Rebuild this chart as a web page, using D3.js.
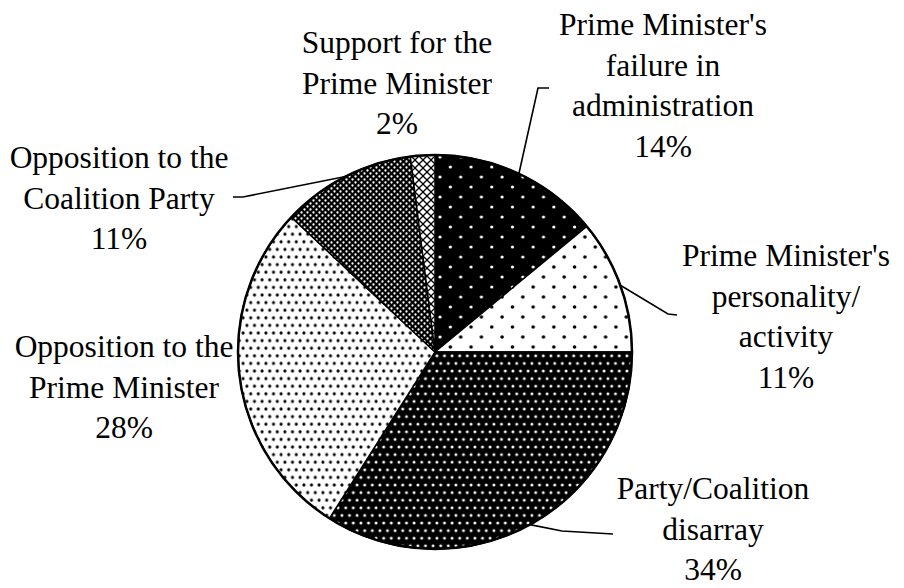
<!DOCTYPE html>
<html>
<head>
<meta charset="utf-8">
<script src="https://cdn.jsdelivr.net/npm/d3@7"></script>
<style>
  html, body { margin: 0; padding: 0; background: #fff; }
  svg { display: block; }
</style>
</head>
<body>
<svg id="chart" width="904" height="588"></svg>
<script>
// Reasons given, clockwise from 12 o'clock
const categories = [
  "Prime Minister's failure in administration",
  "Prime Minister's personality/activity",
  "Party/Coalition disarray",
  "Opposition to the Prime Minister",
  "Opposition to the Coalition Party",
  "Support for the Prime Minister"
];
const values = [14, 11, 34, 28, 11, 2];
// How each category name wraps in its label
const labelLines = [
  ["Prime Minister's", "failure in", "administration"],
  ["Prime Minister's", "personality/", "activity"],
  ["Party/Coalition", "disarray"],
  ["Opposition to the", "Prime Minister"],
  ["Opposition to the", "Coalition Party"],
  ["Support for the", "Prime Minister"]
];

const W = 904, H = 588;
const cx = 435, cy = 352, R = 197;
const lineH = 40.5;

// label anchors (centre x, first baseline) and leader elbows
const labelLayout = [
  { x: 663, y: 35,  leader: [[538, 88], [549, 88]] },
  { x: 786, y: 266, leader: [[668, 314], [677, 315]] },
  { x: 713, y: 499, leader: [[562, 531], [613, 534]] },
  { x: 124, y: 357, leader: null },
  { x: 119, y: 168, leader: [[243, 197], [233, 197]] },
  { x: 397, y: 53,  leader: null }
];

const svg = d3.select("#chart");
const defs = svg.append("defs");

// halftone fills
function dotPattern(id, w, h, bg, fg, dots, r) {
  const p = defs.append("pattern")
    .attr("id", id).attr("patternUnits", "userSpaceOnUse")
    .attr("width", w).attr("height", h);
  p.append("rect").attr("width", w).attr("height", h).attr("fill", bg);
  dots.forEach(([x, y]) => {
    p.append("circle").attr("cx", x).attr("cy", y).attr("r", r).attr("fill", fg);
  });
}
dotPattern("fill0", 20.7, 20, "#000", "#fff", [[5, 5], [15.35, 15]], 1.6);
dotPattern("fill1", 20.7, 20, "#fff", "#000", [[5, 5], [15.35, 15]], 1.8);
dotPattern("fill2", 7.6, 15.2, "#000", "#fff", [[1.9, 3.8], [5.7, 11.4]], 1.5);
dotPattern("fill3", 7.6, 15.2, "#fff", "#000", [[1.9, 3.8], [5.7, 11.4]], 1.55);
dotPattern("fill4", 6, 6, "#000", "#fff", [[1.5, 1.5], [4.5, 4.5]], 1.15);

// diamond lattice
(function () {
  const s = 8, d = 3.1;
  const p = defs.append("pattern")
    .attr("id", "fill5").attr("patternUnits", "userSpaceOnUse")
    .attr("width", s).attr("height", s);
  p.append("rect").attr("width", s).attr("height", s).attr("fill", "#000");
  [[s / 2, s / 2], [0, 0], [s, 0], [0, s], [s, s]].forEach(([x, y]) => {
    p.append("path")
      .attr("d", `M${x},${y - d}L${x + d},${y}L${x},${y + d}L${x - d},${y}Z`)
      .attr("fill", "#fff");
  });
})();

const pie = d3.pie().sort(null).value(d => d).startAngle(0).endAngle(2 * Math.PI);
const arcs = pie(values);
const arc = d3.arc().innerRadius(0).outerRadius(R);

const g = svg.append("g").attr("transform", `translate(${cx},${cy})`);
g.selectAll("path.slice")
  .data(arcs)
  .join("path")
  .attr("class", "slice")
  .attr("d", arc)
  .attr("fill", (d, i) => `url(#fill${i})`)
  .attr("stroke", "#000")
  .attr("stroke-width", 1.5)
  .attr("stroke-linejoin", "round");

g.append("circle")
  .attr("r", R)
  .attr("fill", "none")
  .attr("stroke", "#000")
  .attr("stroke-width", 2.5);

// leader lines from each slice's mid-angle on the rim
const line = d3.line();
arcs.forEach((a, i) => {
  const L = labelLayout[i].leader;
  if (!L) return;
  const mid = (a.startAngle + a.endAngle) / 2;
  const start = [cx + R * Math.sin(mid), cy - R * Math.cos(mid)];
  svg.append("path")
    .attr("d", line([start, ...L]))
    .attr("fill", "none")
    .attr("stroke", "#000")
    .attr("stroke-width", 1.6);
});

// labels
arcs.forEach((a, i) => {
  const pos = labelLayout[i];
  const lines = labelLines[i].concat([values[i] + "%"]);
  lines.forEach((s, k) => {
    svg.append("text")
      .attr("x", pos.x)
      .attr("y", pos.y + k * lineH)
      .attr("text-anchor", "middle")
      .style("font-family", '"Liberation Serif"')
      .style("font-size", "31.5px")
      .style("fill", "#000")
      .text(s);
  });
});
</script>
</body>
</html>
